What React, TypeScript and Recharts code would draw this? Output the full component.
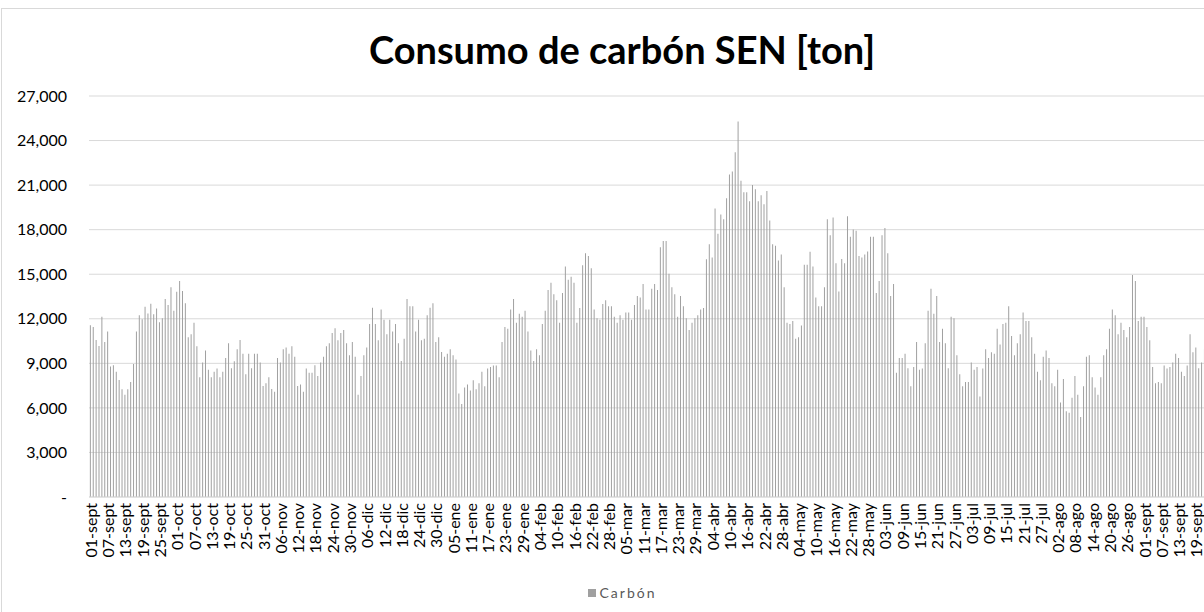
import { BarChart, Bar, XAxis, YAxis, CartesianGrid } from "recharts";

// month names and day counts, Sept 2019 - Sept 2020 (leap year)
const MONTHS = ["sept", "oct", "nov", "dic", "ene", "feb", "mar", "abr", "may", "jun", "jul", "ago", "sept"];
const MONTH_DAYS = [30, 31, 30, 31, 31, 29, 31, 30, 31, 30, 31, 31, 30];

// daily coal consumption [ton]
const CARBON = [
  11560, 11450, 10570, 10170, 12140, 10440, 11150, 8780, 8870, 8440, 7880, 7260, 6880, 7260, 7750, 8960, 11150,
  12230, 11960, 12810, 12360, 13010, 12300, 12700, 11760, 12030, 13330, 12920, 14130, 12540, 13820, 14540, 13870,
  13040, 10750, 10950, 11740, 10150, 8060, 9050, 9860, 8560, 8060, 8440, 8650, 8060, 8440, 9360, 10350, 8670,
  9140, 9950, 10570, 9650, 8270, 9650, 8670, 9650, 9650, 9050, 7480, 7660, 8060, 7280, 7080, 9360,
  9050, 9950, 10060, 9650, 10150, 9450, 7480, 7570, 7080, 8650, 8360, 8360, 8870, 8150, 9050, 9450, 10150,
  10350, 11040, 11360, 10550, 11040, 11240, 10350, 9540, 10440, 9450, 6880, 8150, 9540, 10060, 11650, 12750,
  11650, 10550, 12630, 11940, 10950, 11940, 11150, 11650, 10350, 9160, 10660, 13330, 12840, 12840, 11150, 11940,
  10550, 10660, 12230, 12750, 13040, 10440, 10750, 9770, 9450, 9650, 9950, 9540, 9250, 6970, 6270, 7370, 7570,
  7170, 7860, 7260, 7660, 8440, 7460, 8650, 8760, 8850, 8850, 8060, 10440, 11450, 11330, 12630, 13330, 11740,
  12340, 12140, 12540, 11150, 9860, 9160, 9950, 9540, 11650, 12540, 13930, 14430, 13650, 13240, 11740,
  13730, 15520, 14630, 14830, 14430, 11740, 12720, 15610, 16420, 16220, 15410, 12630, 12030, 11940, 13000, 13240,
  12840, 12840, 12140, 11740, 12230, 11940, 12430, 12430, 11940, 12920, 13530, 13440, 14340, 12630, 12630, 14020, 14340,
  13930, 16820, 17230, 17230, 15030, 14130, 13650, 12140, 13530, 12840, 12030, 11240, 11740, 12030, 12230, 12630,
  12720, 16000, 17020, 16130, 19420, 17720, 19020, 18700, 20120, 21710, 21910, 23210, 25290, 21300, 20520, 20520, 19910,
  21010, 20720, 19910, 20320, 19710, 20610, 18620, 17020, 16910, 15930, 16330, 14130, 11740, 11650, 11850, 10660,
  10750, 11540, 15640, 15640, 16510, 15520, 13440, 12840, 12840, 14130, 18700, 17630, 18820, 15740, 13840, 16020, 15740,
  18910, 17520, 18010, 17920, 16220, 16130, 16330, 16530, 17520, 17520, 13730, 14540, 17630, 18120, 16420, 13530,
  14340, 8360, 9360, 9360, 9650, 8670, 7460, 8760, 10440, 8560, 8650, 10350, 12540, 14020, 12340, 13530, 10440,
  11330, 10350, 8670, 12140, 12030, 9540, 8270, 7460, 7750, 7750, 9050, 8560, 8760, 6760, 8650, 9950, 9360,
  9740, 9650, 11330, 10260, 11650, 11740, 12840, 10840, 9540, 10350, 10950, 12430, 11850, 11850, 10750, 9650,
  8440, 7860, 9450, 9860, 9360, 7660, 7460, 8560, 6360, 7950, 5780, 5670, 6680, 8150, 6880, 5380, 7460, 9450,
  9540, 8060, 7370, 6880, 8060, 9540, 9950, 11330, 12630, 12230, 10950, 11740, 11240, 10750, 11450, 14940, 14540,
  11850, 12140, 12140, 11450, 10550, 8760, 7660, 7750, 7660, 8850, 8650, 8760, 9050, 9650, 9360, 8440, 8150,
  8850, 10950, 9740, 10060, 8670, 9050, 9950, 9600, 9100, 8800, 9300, 9700, 9200, 8900, 9400,
];

const Y_TICKS = [0, 3000, 6000, 9000, 12000, 15000, 18000, 21000, 24000, 27000];

const DATES = MONTHS.flatMap((m, k) =>
  Array.from({ length: MONTH_DAYS[k] }, (_, d) => `${String(d + 1).padStart(2, "0")}-${m}`)
);

const data = DATES.map((date, i) => ({ date, carbon: CARBON[i] }));

const FONT = "Lato, 'Noto Sans', sans-serif";

function DateTick(props: any) {
  const { x, y, payload } = props;
  return (
    <g transform={`translate(${x},${y})`}>
      <text
        transform="rotate(-90)"
        textAnchor="end"
        dominantBaseline="central"
        x={0}
        y={0}
        fontSize={16}
        fontFamily={FONT}
        fill="#000"
      >
        {payload.value}
      </text>
    </g>
  );
}

const fmtY = (v: number) => (v === 0 ? "-" : v.toLocaleString("en-US"));

export default function App() {
  return (
    <div
      style={{
        position: "fixed",
        left: 0,
        top: 0,
        width: 1204,
        height: 612,
        overflow: "hidden",
        background: "#fff",
        fontFamily: FONT,
      }}
    >
      <div
        style={{
          position: "absolute",
          left: 1,
          top: 8,
          width: 1240,
          height: 640,
          border: "1px solid #d9d9d9",
        }}
      >
        <div
          style={{
            position: "absolute",
            left: 0,
            width: 1240,
            top: 17,
            textAlign: "center",
            fontSize: 38,
            fontWeight: 700,
            color: "#000",
          }}
        >
          Consumo de carbón SEN [ton]
        </div>
        <BarChart
          width={1240}
          height={600}
          data={data}
          margin={{ top: 87, right: 13, bottom: 42, left: 0 }}
          barCategoryGap="30%"
        >
          <CartesianGrid vertical={false} stroke="#d9d9d9" />
          <YAxis
            domain={[0, 27000]}
            ticks={Y_TICKS}
            width={87}
            axisLine={false}
            tickLine={false}
            tickMargin={16}
            tickFormatter={fmtY}
            tick={{ fontSize: 16, fill: "#000", fontFamily: FONT }}
          />
          <XAxis
            dataKey="date"
            interval={5}
            height={70}
            tickLine={false}
            tickMargin={0}
            axisLine={{ stroke: "#d9d9d9" }}
            tick={<DateTick />}
          />
          <Bar dataKey="carbon" name="Carbón" fill="#a0a0a0" isAnimationActive={false} />
        </BarChart>
        <div
          style={{
            position: "absolute",
            left: 0,
            width: 1240,
            top: 575,
            display: "flex",
            justifyContent: "center",
            alignItems: "center",
            fontSize: 14,
            letterSpacing: 2,
            color: "#595959",
          }}
        >
          <span style={{ display: "inline-block", width: 8, height: 8, background: "#a0a0a0", marginRight: 4 }} />
          Carbón
        </div>
      </div>
    </div>
  );
}
